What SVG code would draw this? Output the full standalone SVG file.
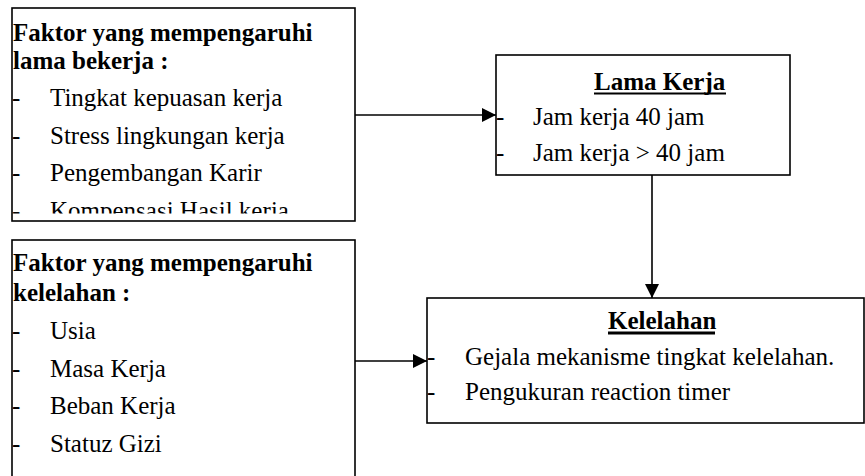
<svg xmlns="http://www.w3.org/2000/svg" width="865" height="476" viewBox="0 0 865 476">
<style>
  .box { fill: #fff; stroke: #000; stroke-width: 1.6; }
  .t { font-family: "Liberation Serif", "Times New Roman", serif; font-size: 25px; fill: #000; }
  .b { font-weight: bold; }
  .conn { stroke: #000; stroke-width: 1.6; fill: none; }
</style>
<defs>
  <marker id="arr" viewBox="0 0 14 14" refX="14" refY="7" markerWidth="14" markerHeight="14" markerUnits="userSpaceOnUse" orient="auto">
    <path d="M0,0 L14,7 L0,14 Z" fill="#000"/>
  </marker>
  <clipPath id="clip1">
    <rect x="0" y="0" width="360" height="213.5"/>
  </clipPath>
</defs>
<rect width="865" height="476" fill="#fff"/>

<g id="connectors">
  <line class="conn" x1="355" y1="115" x2="496" y2="115" marker-end="url(#arr)"/>
  <line class="conn" x1="652" y1="175" x2="652" y2="298" marker-end="url(#arr)"/>
  <line class="conn" x1="355" y1="361" x2="427" y2="361" marker-end="url(#arr)"/>
</g>

<g id="faktor-lama-bekerja">
  <rect class="box" x="12" y="8" width="343" height="213"/>
  <text class="t b" x="13" y="41">Faktor yang mempengaruhi</text>
  <text class="t b" x="13" y="69">lama bekerja :</text>
  <g clip-path="url(#clip1)">
    <text class="t" x="12" y="106">-</text>
    <text class="t" x="50" y="106">Tingkat kepuasan kerja</text>
    <text class="t" x="12" y="143.5">-</text>
    <text class="t" x="50" y="143.5">Stress lingkungan kerja</text>
    <text class="t" x="12" y="181">-</text>
    <text class="t" x="50" y="181">Pengembangan Karir</text>
    <text class="t" x="12" y="218.5">-</text>
    <text class="t" x="50" y="218.5">Kompensasi Hasil kerja</text>
  </g>
</g>

<g id="faktor-kelelahan">
  <rect class="box" x="12" y="240" width="343" height="245"/>
  <text class="t b" x="13" y="271">Faktor yang mempengaruhi</text>
  <text class="t b" x="13" y="301">kelelahan :</text>
  <text class="t" x="12" y="339">-</text>
  <text class="t" x="50" y="339">Usia</text>
  <text class="t" x="12" y="376.5">-</text>
  <text class="t" x="50" y="376.5">Masa Kerja</text>
  <text class="t" x="12" y="414">-</text>
  <text class="t" x="50" y="414">Beban Kerja</text>
  <text class="t" x="12" y="451.5">-</text>
  <text class="t" x="50" y="451.5">Statuz Gizi</text>
</g>

<g id="lama-kerja">
  <rect class="box" x="496" y="55" width="294" height="120"/>
  <text class="t b" x="594" y="90">Lama Kerja</text>
  <line x1="594" y1="93.5" x2="726" y2="93.5" stroke="#000" stroke-width="2"/>
  <text class="t" x="496" y="124.5">-</text>
  <text class="t" x="533" y="124.5">Jam kerja 40 jam</text>
  <text class="t" x="496" y="160.5">-</text>
  <text class="t" x="533" y="160.5">Jam kerja &gt; 40 jam</text>
</g>

<g id="kelelahan">
  <rect class="box" x="427" y="298" width="437" height="125"/>
  <text class="t b" x="608" y="329">Kelelahan</text>
  <line x1="608" y1="333" x2="715" y2="333" stroke="#000" stroke-width="2.8"/>
  <text class="t" x="427" y="365">-</text>
  <text class="t" x="465" y="365">Gejala mekanisme tingkat kelelahan.</text>
  <text class="t" x="427" y="400">-</text>
  <text class="t" x="465" y="400">Pengukuran reaction timer</text>
</g>
</svg>
